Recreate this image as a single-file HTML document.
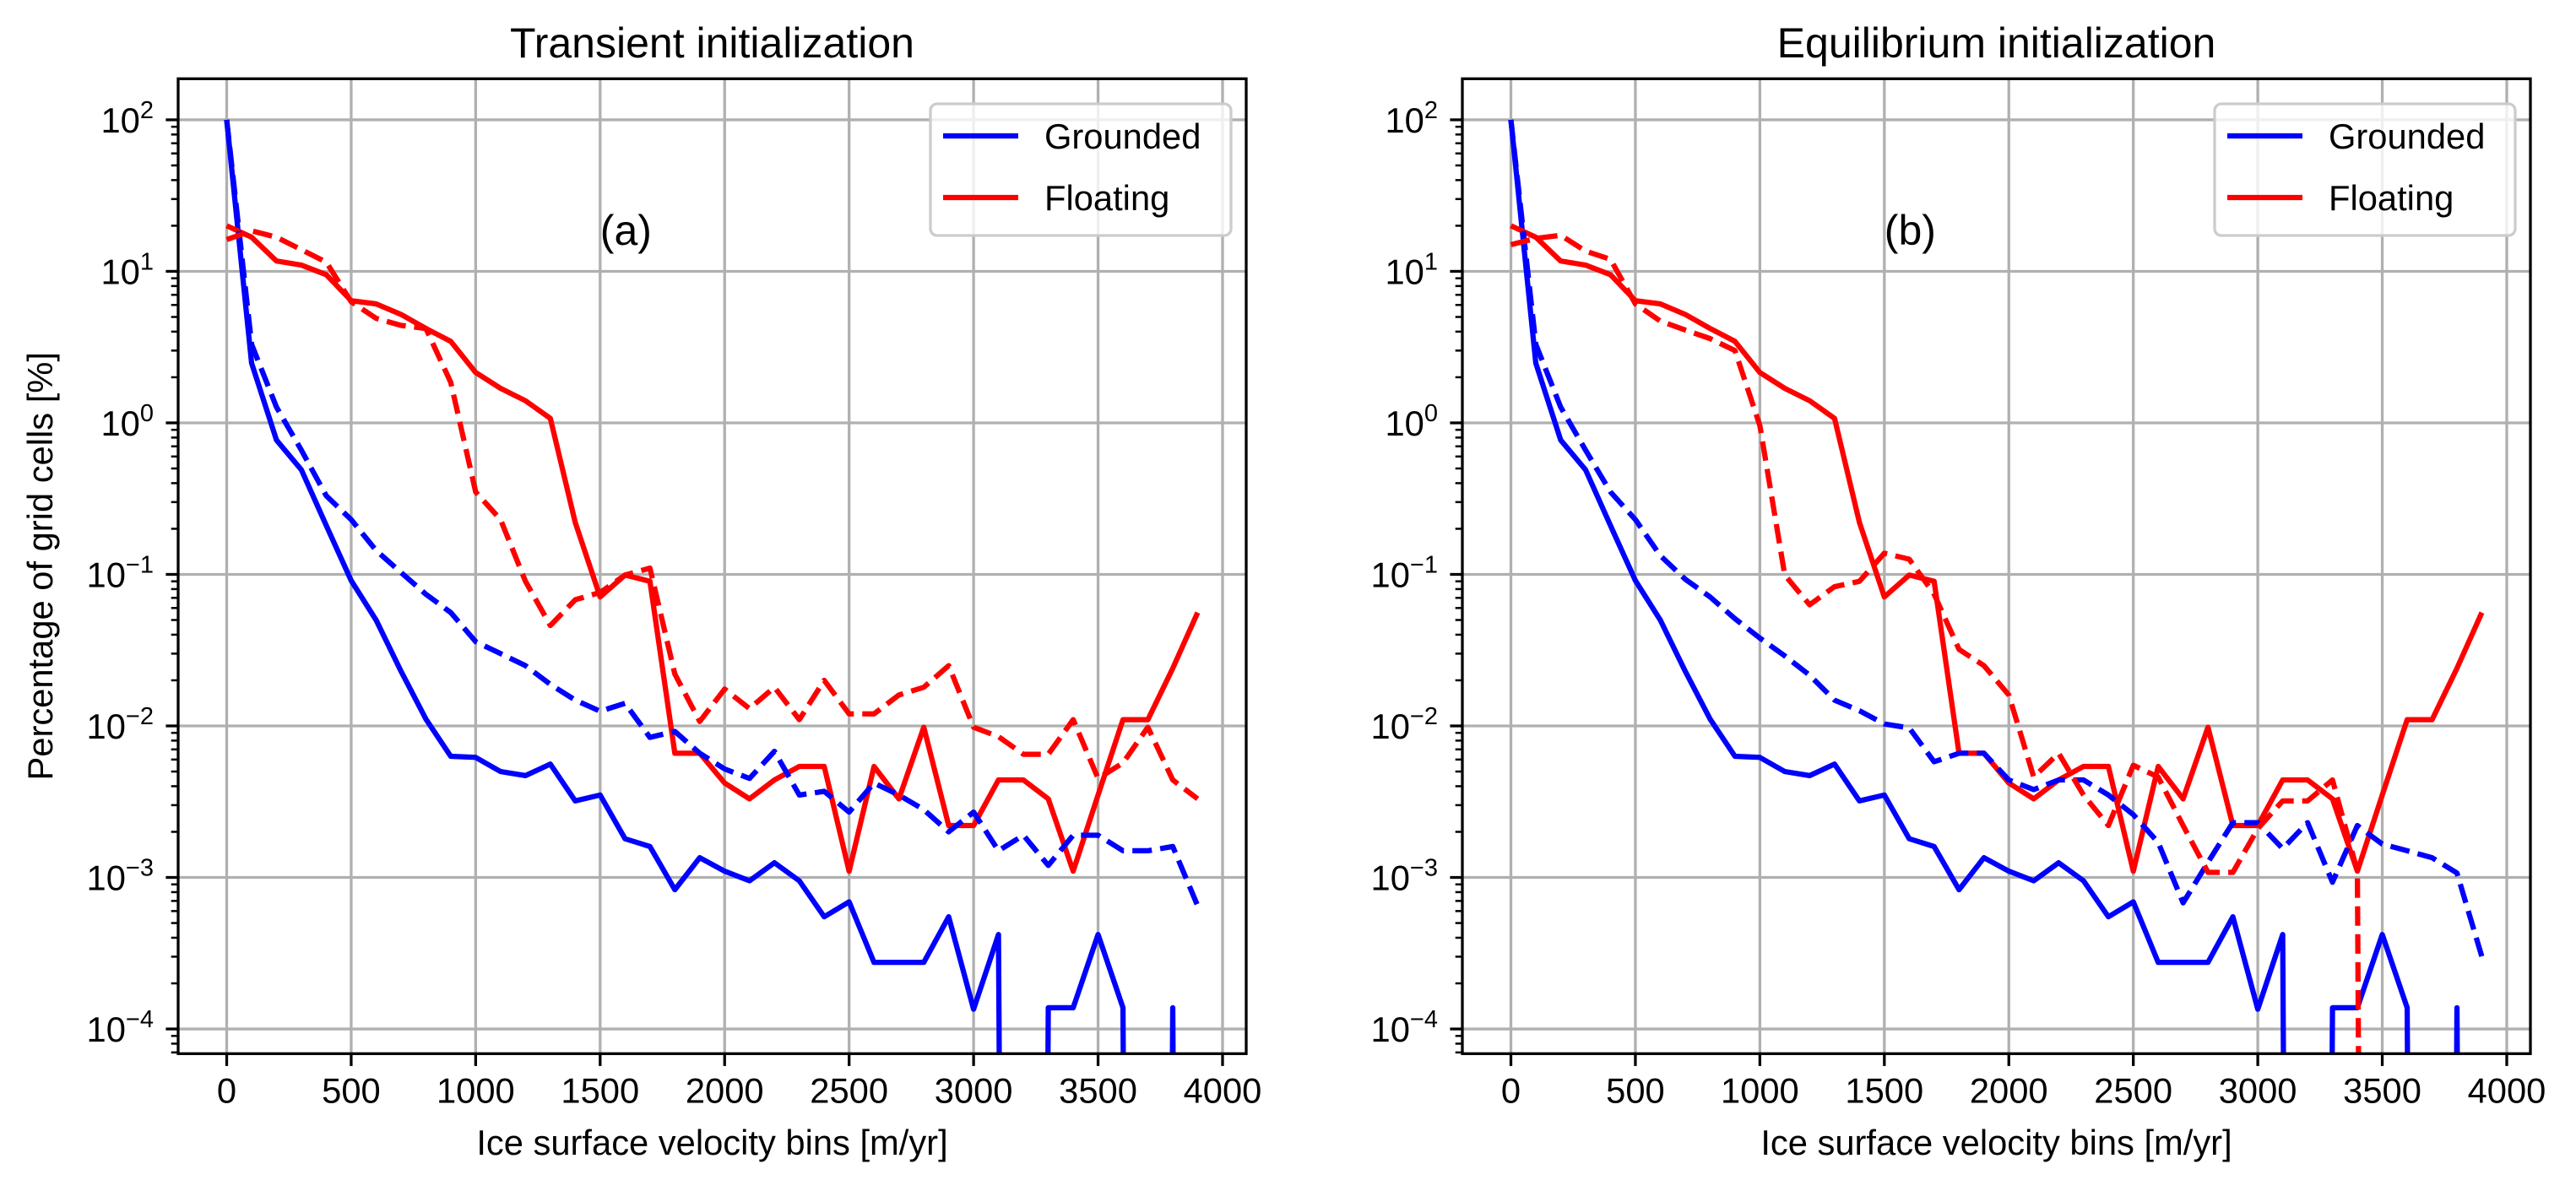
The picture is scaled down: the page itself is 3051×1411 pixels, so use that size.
<!DOCTYPE html>
<html><head><meta charset="utf-8"><style>
html,body{margin:0;padding:0;background:#fff;width:3051px;height:1411px;overflow:hidden;}
svg{display:block;overflow:hidden;}
svg text{font-family:"Liberation Sans","DejaVu Sans",sans-serif;fill:#000;}
</style></head><body>
<svg id="fig" width="3051" height="1411" viewBox="0 0 3051 1411" xmlns="http://www.w3.org/2000/svg"></svg>
<script>
const velocityBins = [0,100,200,300,400,500,600,700,800,900,1000,1100,1200,1300,1400,1500,1600,1700,1800,1900,2000,2100,2200,2300,2400,2500,2600,2700,2800,2900,3000,3100,3200,3300,3400,3500,3600,3700,3800,3900];
const groundedSolid = [100,2.48,0.77,0.49,0.21,0.091,0.05,0.023,0.0111,0.0063,0.0062,0.005,0.0047,0.0056,0.0032,0.0035,0.0018,0.0016,0.00083,0.00135,0.0011,0.00095,0.00125,0.00095,0.00055,0.00069,0.000275,0.000275,0.000275,0.00055,0.000135,0.00042,0,0.000138,0.000138,0.00042,0.000138,0,0.000138,0];
const floatingSolid = [20,16.8,11.7,11.0,9.5,6.4,6.1,5.2,4.2,3.45,2.15,1.69,1.40,1.07,0.22,0.071,0.099,0.09,0.0066,0.0066,0.0042,0.0033,0.0044,0.0054,0.0054,0.0011,0.0054,0.0033,0.0098,0.0022,0.0022,0.0044,0.0044,0.0033,0.0011,0.0035,0.011,0.011,0.024,0.056];
const groundedDashedA = [100,3.3,1.27,0.66,0.33,0.23,0.144,0.103,0.074,0.056,0.036,0.030,0.025,0.0188,0.0148,0.0125,0.0141,0.0084,0.0092,0.0066,0.0052,0.0045,0.0068,0.0035,0.0037,0.0027,0.0042,0.0035,0.0028,0.002,0.0027,0.0015,0.0019,0.0012,0.0019,0.0019,0.0015,0.0015,0.0016,0.00065];
const floatingDashedA = [16.2,18.5,16.8,13.9,11.5,6.3,4.9,4.4,4.2,1.85,0.35,0.23,0.09,0.046,0.068,0.076,0.099,0.11,0.022,0.0107,0.0175,0.013,0.018,0.011,0.02,0.012,0.012,0.016,0.018,0.025,0.0098,0.0085,0.0065,0.0065,0.011,0.0045,0.0057,0.0098,0.0044,0.0033];
const groundedDashedB = [100,3.3,1.27,0.66,0.35,0.23,0.133,0.093,0.071,0.051,0.038,0.029,0.0216,0.0148,0.0126,0.0103,0.0097,0.0058,0.0066,0.0066,0.0044,0.0038,0.0044,0.0044,0.0035,0.0026,0.0017,0.00068,0.00126,0.0023,0.0023,0.00155,0.0023,0.00093,0.0022,0.00166,0.0015,0.00135,0.00107,0.0003];
const floatingDashedB = [15,16.5,17.3,13.6,12,6.1,4.7,4.1,3.6,3.0,0.96,0.099,0.063,0.083,0.09,0.138,0.126,0.074,0.032,0.025,0.016,0.0046,0.0066,0.0035,0.0022,0.0055,0.0046,0.0022,0.00108,0.00108,0.0021,0.0032,0.0032,0.0044,0.0011,0,0,0,0,0];
const xTicks = [0,500,1000,1500,2000,2500,3000,3500,4000];
const yTickExps = [2,1,0,-1,-2,-3,-4];

const NS="http://www.w3.org/2000/svg";
const svg=document.getElementById('fig');
function mk(tag,attrs,parent){const e=document.createElementNS(NS,tag);for(const k in attrs)e.setAttribute(k,attrs[k]);(parent||svg).appendChild(e);return e;}

const AX={top:93.3,bottom:1248.3,w:1265,xmin:-195,xmax:4095,kTop:2.271,kBot:-4.163};
function panel(left,idx,title,letter,gDash,fDash,showYLabel){
  const g=mk('g',{});
  
  
  const right=left+AX.w;
  const xs=v=>left+(v-AX.xmin)/(AX.xmax-AX.xmin)*AX.w;
  const ys=v=>{const k=v>0?Math.log10(v):-30;return AX.top+(AX.kTop-k)/(AX.kTop-AX.kBot)*(AX.bottom-AX.top);};
  const cut=AX.bottom+6;
  function pathFor(vals){
    const pts=vals.map((v,i)=>[xs(velocityBins[i]),ys(v)]);
    let d='',pen=false;
    for(let i=0;i<pts.length;i++){
      const p=pts[i];
      if(p[1]<=cut){
        if(!pen){
          if(i>0&&pts[i-1][1]>cut){const q=pts[i-1];const t=(cut-p[1])/(q[1]-p[1]);d+='M'+(p[0]+t*(q[0]-p[0])).toFixed(2)+' '+cut+' L';}
          else d+='M';
          pen=true;
        } else d+=' L';
        d+=p[0].toFixed(2)+' '+p[1].toFixed(2);
      } else if(pen){
        const q=pts[i-1];const t=(cut-q[1])/(p[1]-q[1]);
        d+=' L'+(q[0]+t*(p[0]-q[0])).toFixed(2)+' '+cut+' ';pen=false;
      }
    }
    return d;
  }
  const cid='clip'+idx;
  const cp=mk('clipPath',{id:cid},g);mk('rect',{x:left,y:AX.top,width:AX.w,height:AX.bottom-AX.top},cp);
  xTicks.forEach(t=>{const x=xs(t);const l=mk('line',{x1:x,x2:x,y1:AX.top,y2:AX.bottom,stroke:'#b0b0b0','stroke-width':3.3},g);
    });
  yTickExps.forEach(k=>{const y=ys(Math.pow(10,k));const l=mk('line',{x1:left,x2:right,y1:y,y2:y,stroke:'#b0b0b0','stroke-width':3.3},g);
    });
  const series=[[groundedSolid,'#0000ff',null,'grounded-solid-line'],[floatingSolid,'#ff0000',null,'floating-solid-line'],[gDash,'#0000ff','23.1 10','grounded-dashed-line'],[fDash,'#ff0000','23.1 10','floating-dashed-line']];
  series.forEach(s=>{
    const p=mk('path',{d:pathFor(s[0]),fill:'none',stroke:s[1],'stroke-width':6.25,'stroke-linejoin':'round','clip-path':'url(#'+cid+')'},g);
    if(s[2])p.setAttribute('stroke-dasharray',s[2]);
    
    
  });
  const sp=mk('rect',{x:left,y:AX.top,width:AX.w,height:AX.bottom-AX.top,fill:'none',stroke:'#000','stroke-width':3.3},g);
  
  xTicks.forEach(t=>{const x=xs(t);mk('line',{x1:x,x2:x,y1:AX.bottom,y2:AX.bottom+14.6,stroke:'#000','stroke-width':3.3},g);
    const tx=mk('text',{x:x,y:AX.bottom+58,'text-anchor':'middle','font-size':41.7},g);tx.textContent=t;
    });
  yTickExps.forEach(k=>{const y=ys(Math.pow(10,k));mk('line',{x1:left,x2:left-14.6,y1:y,y2:y,stroke:'#000','stroke-width':3.3},g);
    const tx=mk('text',{x:left-29,y:y+15,'text-anchor':'end','font-size':41.7},g);
    const b=mk('tspan',{},tx);b.textContent='10';
    const sup=mk('tspan',{dy:-17,'font-size':29},tx);sup.textContent=(k<0?'\u2212'+(-k):''+k);
    });
  for(let k=-5;k<=2;k++)for(let m=2;m<=9;m++){const v=m*Math.pow(10,k);const y=ys(v);
    if(y<AX.top||y>AX.bottom)continue;mk('line',{x1:left,x2:left-8.3,y1:y,y2:y,stroke:'#000','stroke-width':2.5},g);}
  const tt=mk('text',{x:left+AX.w/2,y:68,'text-anchor':'middle','font-size':50},g);tt.textContent=title;
  
  const xl=mk('text',{x:left+AX.w/2,y:1368,'text-anchor':'middle','font-size':41.7},g);xl.textContent='Ice surface velocity bins [m/yr]';
  
  if(showYLabel){const yl=mk('text',{x:0,y:0,'text-anchor':'middle','font-size':41.7,transform:'translate(62,670.8) rotate(-90)'},g);
    yl.textContent='Percentage of grid cells [%]';}
  const an=mk('text',{x:xs(1500),y:290,'font-size':50},g);an.textContent='('+letter+')';
  
  const lx=left+891;
  const lg=mk('g',{},g);
  mk('rect',{x:lx,y:123,width:356,height:156,rx:8,fill:'#fff','fill-opacity':0.8,stroke:'#cccccc','stroke-width':3.3},lg);
  [['Grounded','#0000ff',161],['Floating','#ff0000',234]].forEach(e=>{
    const en=mk('g',{},lg);
    mk('line',{x1:lx+15,x2:lx+104,y1:e[2],y2:e[2],stroke:e[1],'stroke-width':6.25},en);
    const t=mk('text',{x:lx+135,y:e[2]+15,'font-size':41.7},en);t.textContent=e[0];});
}
panel(211,0,'Transient initialization','a',groundedDashedA,floatingDashedA,true);
panel(1732,1,'Equilibrium initialization','b',groundedDashedB,floatingDashedB,false);
</script>
</body></html>
